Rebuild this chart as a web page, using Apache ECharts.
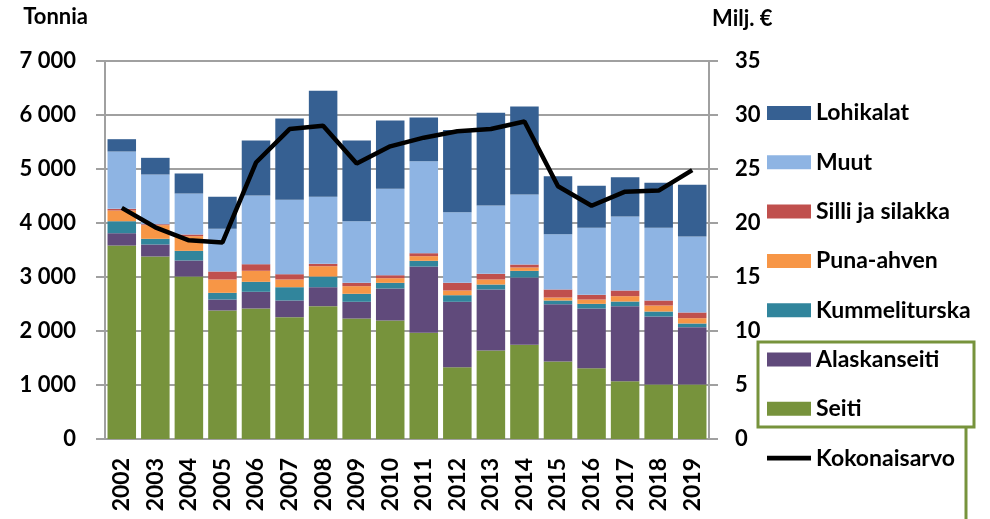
<!DOCTYPE html>
<html>
<head>
<meta charset="utf-8">
<script src="https://cdn.jsdelivr.net/npm/echarts@6/dist/echarts.min.js"></script>
<style>html,body{margin:0;padding:0;background:#fff}#c{width:990px;height:519px}</style>
</head>
<body>
<div id="c"></div>
<script>
const years = ['2002','2003','2004','2005','2006','2007','2008','2009','2010','2011','2012','2013','2014','2015','2016','2017','2018','2019'];
const seiti = [3583,3380,3009,2380,2417,2256,2460,2231,2194,1966,1330,1639,1744,1435,1311,1070,1009,1009];
const alaskanseiti = [228,222,297,203,309,309,351,310,593,1228,1211,1130,1247,1061,1106,1390,1260,1062];
const kummeliturska = [222,105,179,124,185,246,198,148,105,106,122,92,123,69,86,86,92,68];
const punaAhven = [198,253,271,247,204,143,191,141,86,86,87,93,62,55,80,99,111,98];
const silli = [31,18,31,148,122,98,44,62,55,55,142,105,55,149,87,105,93,106];
const muut = [1062,920,759,790,1272,1378,1241,1142,1600,1704,1309,1265,1297,1024,1241,1370,1346,1407];
const lohikalat = [228,309,371,593,1019,1505,1963,1494,1265,809,1519,1716,1629,1074,777,729,833,957];
const kokonaisarvo = [21.4,19.6,18.4,18.2,25.6,28.7,29.0,25.5,27.1,27.9,28.5,28.7,29.4,23.4,21.6,22.9,23.0,24.9];
const leftTicks = {min:0, max:7000, interval:1000};
const rightTicks = {min:0, max:35, interval:5};

const FONT = 'Lato';
const chart = echarts.init(document.getElementById('c'));
const grey = '#a0a0a0';
function bar(name, data, color){
  return {name, type:'bar', stack:'t', data, barCategoryGap:'15%', itemStyle:{color}, emphasis:{disabled:true}};
}
const option = {
  animation:false,
  textStyle:{fontFamily:FONT, fontWeight:'bold', color:'#000'},
  grid:{left:105, right:281, top:61, bottom:80},
  legend:{
    orient:'vertical', left:767, top:101, padding:0,
    itemWidth:44, itemHeight:14, itemGap:25.3,
    textStyle:{fontFamily:FONT, fontWeight:'bold', fontSize:23, color:'#000', lineHeight:24, padding:[0,0,0,0]},
    data:[
      {name:'Lohikalat', icon:'rect'},
      {name:'Muut', icon:'rect'},
      {name:'Silli ja silakka', icon:'rect'},
      {name:'Puna-ahven', icon:'rect'},
      {name:'Kummeliturska', icon:'rect'},
      {name:'Alaskanseiti', icon:'rect'},
      {name:'Seiti', icon:'rect'},
      {name:'Kokonaisarvo', icon:'path://M0,0L46,0L46,5L0,5Z', itemStyle:{color:'#000'}}
    ]
  },
  xAxis:{
    type:'category', data:years,
    axisLine:{lineStyle:{color:grey, width:2}},
    axisTick:{lineStyle:{color:grey, width:2}, length:7},
    axisLabel:{rotate:90, margin:19, fontFamily:FONT, fontWeight:'bold', fontSize:23, color:'#000'}
  },
  yAxis:[
    {type:'value', min:leftTicks.min, max:leftTicks.max, interval:leftTicks.interval,
     name:'Tonnia', nameLocation:'end', nameGap:33,
     nameTextStyle:{fontFamily:FONT, fontWeight:'bold', fontSize:22, color:'#000', align:'right', padding:[0,17,0,0]},
     axisLine:{show:true, lineStyle:{color:grey, width:2}},
     axisTick:{show:true, length:9, lineStyle:{color:grey, width:2}},
     splitLine:{lineStyle:{color:grey, width:2}},
     axisLabel:{margin:29, fontFamily:FONT, fontWeight:'bold', fontSize:22, color:'#000',
       formatter:v=>String(v).replace(/\B(?=(\d{3})+(?!\d))/g,' ')}
    },
    {type:'value', position:'right', min:rightTicks.min, max:rightTicks.max, interval:rightTicks.interval,
     name:'Milj. €', nameLocation:'end', nameGap:31,
     nameTextStyle:{fontFamily:FONT, fontWeight:'bold', fontSize:22, color:'#000', align:'left', padding:[0,0,0,3]},
     axisLine:{show:true, lineStyle:{color:grey, width:2}},
     axisTick:{show:true, length:9, lineStyle:{color:grey, width:2}},
     splitLine:{show:false},
     axisLabel:{margin:26, fontFamily:FONT, fontWeight:'bold', fontSize:22, color:'#000'}
    }
  ],
  series:[
    bar('Seiti', seiti, '#77933c'),
    bar('Alaskanseiti', alaskanseiti, '#604a7b'),
    bar('Kummeliturska', kummeliturska, '#31859c'),
    bar('Puna-ahven', punaAhven, '#f79646'),
    bar('Silli ja silakka', silli, '#c0504d'),
    bar('Muut', muut, '#8eb4e3'),
    bar('Lohikalat', lohikalat, '#366092'),
    {name:'Kokonaisarvo', type:'line', yAxisIndex:1, data:kokonaisarvo, symbol:'none',
     lineStyle:{color:'#000', width:4.5}, itemStyle:{color:'#000'}, z:5, emphasis:{disabled:true}}
  ],
  graphic:[
    {type:'rect', shape:{x:758, y:342, width:216, height:85}, style:{fill:'none', stroke:'#77933c', lineWidth:3}},
    {type:'line', shape:{x1:966, y1:427, x2:966, y2:519}, style:{stroke:'#77933c', lineWidth:3}}
  ]
};
chart.setOption(option);
</script>
</body>
</html>
